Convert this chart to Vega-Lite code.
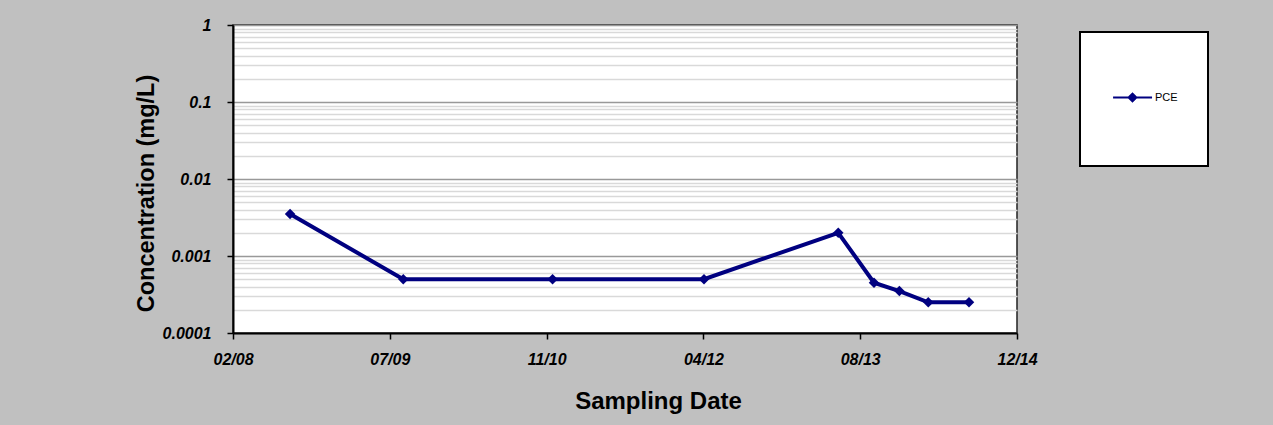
{
  "$schema": "https://vega.github.io/schema/vega-lite/v6.json",
  "autosize": {"type": "none"},
  "width": 784,
  "height": 308,
  "padding": {"left": 233, "top": 25, "right": 256, "bottom": 92},
  "background": "#c0c0c0",
  "config": {
    "view": {"fill": "white", "stroke": "#222222", "strokeWidth": 1.5},
    "font": "Liberation Sans"
  },
  "data": {
    "values": [
      {"date": "2008-08-24", "conc": 0.0035, "series": "PCE"},
      {"date": "2009-08-20", "conc": 0.0005, "series": "PCE"},
      {"date": "2010-12-09", "conc": 0.0005, "series": "PCE"},
      {"date": "2012-04-05", "conc": 0.0005, "series": "PCE"},
      {"date": "2013-06-07", "conc": 0.002, "series": "PCE"},
      {"date": "2013-09-29", "conc": 0.00045, "series": "PCE"},
      {"date": "2013-12-19", "conc": 0.00035, "series": "PCE"},
      {"date": "2014-03-21", "conc": 0.00025, "series": "PCE"},
      {"date": "2014-07-29", "conc": 0.00025, "series": "PCE"}
    ]
  },
  "mark": {
    "type": "line",
    "strokeWidth": 4,
    "point": {"shape": "diamond", "filled": true, "size": 110}
  },
  "encoding": {
    "x": {
      "field": "date",
      "type": "temporal",
      "scale": {
        "type": "utc",
        "domain": [
          {"year": 2008, "month": 2, "date": 24, "utc": true},
          {"year": 2014, "month": 12, "date": 29, "utc": true}
        ],
        "nice": false
      },
      "axis": {
        "values": [
          {"year": 2008, "month": 2, "date": 24, "utc": true},
          {"year": 2009, "month": 7, "date": 8, "utc": true},
          {"year": 2010, "month": 11, "date": 20, "utc": true},
          {"year": 2012, "month": 4, "date": 3, "utc": true},
          {"year": 2013, "month": 8, "date": 16, "utc": true},
          {"year": 2014, "month": 12, "date": 29, "utc": true}
        ],
        "labelExpr": "utcFormat(datum.value, '%m/%y')",
        "grid": false,
        "domainColor": "black",
        "domainWidth": 2,
        "tickColor": "black",
        "tickWidth": 1.5,
        "tickSize": 6,
        "labelFont": "Liberation Sans",
        "labelFontSize": 16,
        "labelFontWeight": "bold",
        "labelFontStyle": "italic",
        "labelColor": "black",
        "labelPadding": 12,
        "labelFlush": false,
        "labelOverlap": false,
        "title": "Sampling Date",
        "titleFont": "Liberation Sans",
        "titleFontSize": 24,
        "titleFontWeight": "bold",
        "titleColor": "black",
        "titleX": 425,
        "titleY": 75,
        "titleAlign": "center",
        "titleBaseline": "alphabetic"
      }
    },
    "y": {
      "field": "conc",
      "type": "quantitative",
      "scale": {"type": "log", "domain": [0.0001, 1], "nice": false},
      "axis": {
        "values": [0.0001, 0.0002, 0.0003, 0.0004, 0.0005, 0.0006, 0.0007, 0.0008, 0.0009,
                   0.001, 0.002, 0.003, 0.004, 0.005, 0.006, 0.007, 0.008, 0.009,
                   0.01, 0.02, 0.03, 0.04, 0.05, 0.06, 0.07, 0.08, 0.09,
                   0.1, 0.2, 0.3, 0.4, 0.5, 0.6, 0.7, 0.8, 0.9, 1],
        "labelExpr": "indexof([1,0.1,0.01,0.001,0.0001], datum.value) >= 0 ? format(datum.value, '~g') : ''",
        "grid": true,
        "gridColor": {"condition": {"test": "indexof([1,0.1,0.01,0.001,0.0001], datum.value) >= 0", "value": "#999999"}, "value": "#d9d9d9"},
        "gridWidth": 1.3,
        "tickSize": {"condition": {"test": "indexof([1,0.1,0.01,0.001,0.0001], datum.value) >= 0", "value": 6}, "value": 0},
        "tickColor": "black",
        "tickWidth": 1.5,
        "domainColor": "black",
        "domainWidth": 2,
        "labelFont": "Liberation Sans",
        "labelFontSize": 16,
        "labelFontWeight": "bold",
        "labelFontStyle": "italic",
        "labelColor": "black",
        "labelPadding": 16,
        "labelFlush": false,
        "labelOverlap": false,
        "labelBaseline": "middle",
        "title": "Concentration (mg/L)",
        "titleFont": "Liberation Sans",
        "titleFontSize": 23.5,
        "titleFontWeight": "bold",
        "titleColor": "black",
        "titleX": -80,
        "titleY": 168,
        "titleAngle": -90,
        "titleAlign": "center",
        "titleBaseline": "alphabetic"
      }
    },
    "color": {
      "field": "series",
      "type": "nominal",
      "scale": {"range": ["#000080"]},
      "legend": {
        "title": null,
        "orient": "none",
        "legendX": 847,
        "legendY": 7,
        "fillColor": "white",
        "strokeColor": "black",
        "padding": 30,
        "symbolType": "M-0.94,0H0.19M-0.49,0L-0.377,-0.11L-0.265,0L-0.377,0.11ZM-0.377,1L-0.377,1M-0.377,-1L-0.377,-1",
        "symbolSize": 4761,
        "symbolStrokeWidth": 2,
        "symbolFillColor": "#000080",
        "symbolStrokeColor": "#000080",
        "labelOffset": -26,
        "labelFont": "Liberation Sans",
        "labelFontSize": 11,
        "labelColor": "black",
        "encode": {"legend": {"update": {"strokeWidth": {"value": 2}}}}
      }
    }
  }
}
